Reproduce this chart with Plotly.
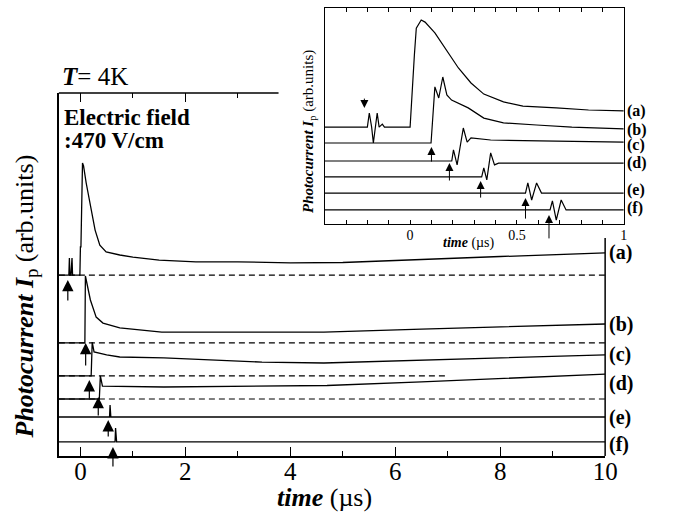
import plotly.graph_objects as go

W, H = 676, 513
SERIF = "Liberation Serif, Times New Roman, DejaVu Serif, serif"

# ---------------- main panel data (time in us, photocurrent in arb. units) ----------------
a_t = [-0.41, -0.22, -0.21, -0.20, -0.18, -0.16, -0.15, -0.14, -0.01, 0.00, 0.01, 0.04, 0.06,
       0.11, 0.19, 0.28, 0.37, 0.49, 0.75, 1.0, 1.5, 2.2, 3.0, 4.0, 5.0, 6.0, 6.5, 7.0, 8.0,
       8.4, 9.0, 10.0]
a_v = [60.3, 60.3, 66.0, 60.3, 60.3, 66.0, 60.3, 60.3, 60.3, 69.7, 69.7, 97.7, 96.7,
       91.0, 83.0, 75.3, 70.3, 68.0, 67.0, 66.3, 65.3, 64.7, 64.7, 64.4, 64.5, 65.2, 65.6,
       66.0, 66.5, 66.7, 67.1, 67.7]
b_t = [-0.41, 0.085, 0.095, 0.12, 0.19, 0.30, 0.43, 0.75, 1.55, 2.5, 4.0, 4.64, 6.5, 8.37, 10.0]
b_v = [37.7, 37.7, 60.0, 58.0, 52.0, 46.3, 44.3, 42.7, 41.3, 41.3, 41.3, 41.3, 42.3, 43.3, 44.0]
c_t = [-0.41, 0.205, 0.225, 0.26, 0.5, 0.75, 1.59, 3.46, 4.64, 6.5, 8.37, 10.0]
c_v = [26.7, 26.7, 38.0, 34.7, 33.7, 33.0, 32.7, 31.3, 31.0, 32.0, 33.0, 33.7]
d_t = [-0.41, 0.36, 0.38, 0.42, 1.59, 4.7, 6.5, 8.37, 10.0]
d_v = [19.0, 19.0, 26.7, 23.3, 23.0, 23.5, 24.7, 26.0, 27.3]
e_t = [-0.41, 0.555, 0.565, 0.58, 10.0]
e_v = [13.0, 13.0, 17.0, 13.0, 13.0]
f_t = [-0.41, 0.66, 0.67, 0.69, 10.0]
f_v = [4.7, 4.7, 9.3, 4.7, 4.7]

main_t = [a_t, b_t, c_t, d_t, e_t, f_t]
main_v = [a_v, b_v, c_v, d_v, e_v, f_v]
labels = ["(a)", "(b)", "(c)", "(d)", "(e)", "(f)"]
main_label_y = [67.7, 44.0, 33.7, 24.3, 13.0, 3.7]

# dashed zero lines: level, start, end
dash_level = [60.3, 37.7, 26.7, 19.0]
dash_start = [-0.41, -0.41, -0.41, -0.41]
dash_end = [10.0, 10.0, 7.0, 10.0]

# arrows (time, tip, tail)
arr_t = [-0.24, 0.10, 0.17, 0.34, 0.53, 0.62]
arr_tip = [58.7, 37.7, 25.3, 19.7, 12.0, 3.0]
arr_tail = [51.3, 29.7, 18.7, 13.0, 6.0, -4.0]

# ---------------- inset data ----------------
ia_t = [-0.40, -0.20, -0.191, -0.18, -0.172, -0.163, -0.154, -0.145, -0.13, -0.12, -0.10,
        0.0, 0.02, 0.029, 0.052, 0.07, 0.116, 0.162, 0.226, 0.285, 0.345, 0.437, 0.528,
        0.684, 0.835, 1.0]
ia_v = [32.3, 32.3, 37.0, 32.3, 27.0, 32.3, 37.0, 32.3, 33.3, 32.3, 32.3,
        32.3, 56.3, 65.3, 68.0, 67.3, 63.7, 58.7, 52.0, 47.0, 43.3, 40.7, 39.3,
        38.7, 38.0, 37.7]
ib_t = [-0.40, 0.098, 0.116, 0.134, 0.153, 0.172, 0.194, 0.272, 0.345, 0.437, 0.592, 0.757, 1.0]
ib_v = [27.0, 27.0, 45.7, 42.0, 49.0, 43.0, 41.3, 38.7, 35.3, 33.7, 33.0, 32.3, 31.7]
ic_t = [-0.40, 0.195, 0.203, 0.22, 0.249, 0.267, 0.285, 0.377, 0.606, 1.0]
ic_v = [21.0, 21.0, 24.7, 19.7, 32.0, 27.3, 28.7, 28.0, 27.7, 27.3]
id_t = [-0.40, 0.335, 0.345, 0.359, 0.377, 0.395, 0.414, 1.0]
id_v = [15.7, 15.7, 18.7, 14.7, 23.7, 19.7, 20.3, 20.3]
ie_t = [-0.40, 0.54, 0.551, 0.569, 0.592, 0.615, 1.0]
ie_v = [10.3, 10.3, 13.7, 8.0, 13.7, 10.3, 10.3]
if_t = [-0.40, 0.655, 0.666, 0.684, 0.707, 0.73, 1.0]
if_v = [4.7, 4.7, 7.7, 1.3, 8.0, 4.7, 4.7]

ins_t = [ia_t, ib_t, ic_t, id_t, ie_t, if_t]
ins_v = [ia_v, ib_v, ic_v, id_v, ie_v, if_v]
ins_label_y = [37.7, 31.3, 26.3, 20.3, 11.3, 5.3]

iarr_t = [-0.214, 0.10, 0.184, 0.33, 0.54, 0.65]
iarr_tip = [38.7, 25.7, 20.3, 14.3, 8.7, 3.0]
iarr_tail = [42.3, 20.3, 14.0, 8.3, 1.3, -5.3]

# ---------------- figure ----------------
fig = go.Figure()

for lv, s, e in zip(dash_level, dash_start, dash_end):
    fig.add_trace(go.Scatter(x=[s, e], y=[lv, lv], mode="lines",
                             line=dict(color="black", width=1.1, dash="6px,4px"),
                             xaxis="x", yaxis="y", hoverinfo="skip"))
for t, v in zip(main_t, main_v):
    fig.add_trace(go.Scatter(x=t, y=v, mode="lines", line=dict(color="black", width=1.3),
                             xaxis="x", yaxis="y", hoverinfo="skip"))
fig.add_trace(go.Scatter(x=[], y=[], xaxis="x3", yaxis="y", hoverinfo="skip"))
for t, v in zip(ins_t, ins_v):
    fig.add_trace(go.Scatter(x=t, y=v, mode="lines", line=dict(color="black", width=1.2),
                             xaxis="x2", yaxis="y2", hoverinfo="skip"))

def px_x(p):
    return p / W

def px_y(p):
    return 1 - p / H

ann = []
for t, tip, tail in zip(arr_t, arr_tip, arr_tail):
    ann.append(dict(x=t, y=tip, ax=t, ay=tail, xref="x", yref="y", axref="x", ayref="y",
                    text="", showarrow=True, arrowhead=2, arrowsize=1.9, arrowwidth=1.2,
                    arrowcolor="black"))
for t, tip, tail in zip(iarr_t, iarr_tip, iarr_tail):
    ann.append(dict(x=t, y=tip, ax=t, ay=tail, xref="x2", yref="y2", axref="x2", ayref="y2",
                    text="", showarrow=True, arrowhead=2, arrowsize=1.6, arrowwidth=1.0,
                    arrowcolor="black"))
for lab, y in zip(labels, main_label_y):
    ann.append(dict(x=px_x(619), y=y, xref="paper", yref="y", xanchor="left", yanchor="middle",
                    text="<b>%s</b>" % lab, showarrow=False,
                    font=dict(family=SERIF, size=20, color="black")))
for lab, y in zip(labels, ins_label_y):
    ann.append(dict(x=px_x(637), y=y, xref="paper", yref="y2", xanchor="left", yanchor="middle",
                    text="<b>%s</b>" % lab, showarrow=False,
                    font=dict(family=SERIF, size=16, color="black")))

ann += [
    dict(x=px_x(61), y=px_y(76), xref="paper", yref="paper", xanchor="left", yanchor="middle",
         text="<b><i>T</i></b>= 4K", showarrow=False, font=dict(family=SERIF, size=25, color="black")),
    dict(x=px_x(63), y=px_y(117), xref="paper", yref="paper", xanchor="left", yanchor="middle",
         text="<b>Electric field</b>", showarrow=False, font=dict(family=SERIF, size=23, color="black")),
    dict(x=px_x(63), y=px_y(140), xref="paper", yref="paper", xanchor="left", yanchor="middle",
         text="<b>:470 V/cm</b>", showarrow=False, font=dict(family=SERIF, size=23, color="black")),
    dict(x=px_x(331), y=px_y(497), xref="paper", yref="paper", xanchor="center", yanchor="middle",
         text="<b><i>time</i></b> (µs)", showarrow=False, font=dict(family=SERIF, size=26, color="black")),
    dict(x=px_x(26), y=px_y(297), xref="paper", yref="paper", xanchor="center", yanchor="middle",
         textangle=-90, text="<b><i>Photocurrent I</i></b><sub>p</sub> (arb.units)", showarrow=False,
         font=dict(family=SERIF, size=26, color="black")),
    dict(x=px_x(478), y=px_y(243), xref="paper", yref="paper", xanchor="center", yanchor="middle",
         text="<b><i>time</i></b> (µs)", showarrow=False, font=dict(family=SERIF, size=14, color="black")),
    dict(x=px_x(315), y=px_y(131), xref="paper", yref="paper", xanchor="center", yanchor="middle",
         textangle=-90, text="<b><i>Photocurrent I</i></b><sub>p</sub> (arb.units)", showarrow=False,
         font=dict(family=SERIF, size=15, color="black")),
]

shapes = [
    dict(type="line", xref="paper", yref="paper", x0=px_x(60), x1=px_x(284), y0=px_y(93), y1=px_y(93),
         line=dict(color="black", width=1.5)),
    dict(type="line", xref="paper", yref="paper", x0=px_x(617), x1=px_x(617), y0=px_y(238), y1=px_y(456),
         line=dict(color="black", width=1.5)),
]

fig.update_layout(
    width=W, height=H, margin=dict(l=0, r=0, t=0, b=0),
    paper_bgcolor="white", plot_bgcolor="white", showlegend=False,
    font=dict(family=SERIF, color="black"),
    xaxis=dict(domain=[px_x(60), px_x(617)], range=[-0.411, 10], anchor="y",
               showline=True, linecolor="black", linewidth=1.5, showgrid=False, zeroline=False,
               ticks="inside", ticklen=9, tickwidth=1.3, tickcolor="black", tick0=0, dtick=2,
               minor=dict(dtick=1, ticks="inside", ticklen=5, tickwidth=1.3, tickcolor="black", showgrid=False),
               tickfont=dict(family=SERIF, size=25, color="black"), ticklabelstandoff=-8),
    xaxis3=dict(overlaying="x", side="top", anchor="y", range=[-0.411, 10], showline=False,
                showgrid=False, zeroline=False, showticklabels=False,
                tickmode="array", tickvals=[0, 2], ticks="inside", ticklen=9, tickwidth=1.3,
                tickcolor="black",
                minor=dict(tickmode="array", tickvals=[1, 3], ticks="inside", ticklen=5,
                           tickwidth=1.3, tickcolor="black", showgrid=False)),
    yaxis=dict(domain=[px_y(456), px_y(93)], range=[0, 121], anchor="x",
               showline=True, linecolor="black", linewidth=1.5, showgrid=False, zeroline=False,
               ticks="", showticklabels=False),
    xaxis2=dict(domain=[px_x(331), px_x(636)], range=[-0.40, 1.0], anchor="y2",
                showline=True, mirror="ticks", linecolor="black", linewidth=1.2, showgrid=False,
                zeroline=False, ticks="inside", ticklen=4, tickwidth=1, tickcolor="black",
                tick0=0, dtick=0.5,
                minor=dict(dtick=0.1, ticks="inside", ticklen=4, tickwidth=1, tickcolor="black", showgrid=False),
                tickfont=dict(family=SERIF, size=14, color="black"), ticklabelstandoff=-2),
    yaxis2=dict(domain=[px_y(224), px_y(8)], range=[0, 72], anchor="x2",
                showline=True, mirror=True, linecolor="black", linewidth=1.2, showgrid=False,
                zeroline=False, ticks="", showticklabels=False),
    annotations=ann, shapes=shapes,
)

fig.write_html("out.html", config={"displayModeBar": False},
               post_script="document.body.style.margin='0px';"
                           "document.documentElement.style.overflow='hidden';")
